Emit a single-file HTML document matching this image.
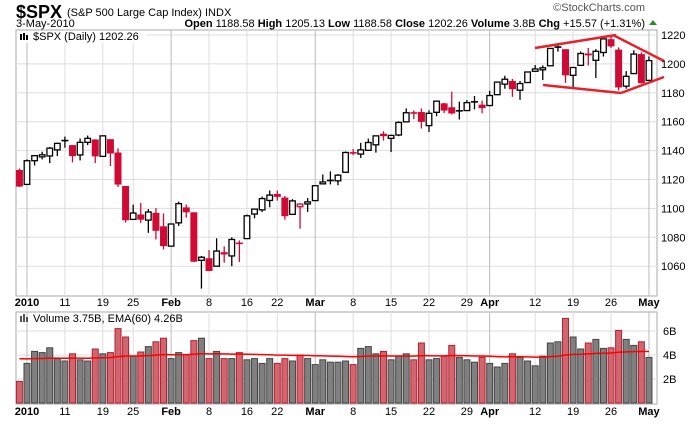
<!DOCTYPE html>
<html><head><meta charset="utf-8"><style>
body{margin:0;background:#fff;width:700px;height:421px;overflow:hidden;font-family:"Liberation Sans",sans-serif}
svg text{font-family:"Liberation Sans",sans-serif}
</style></head><body>
<svg id="chart" width="700" height="421" xmlns="http://www.w3.org/2000/svg">
<text x="16" y="18" font-size="18" font-weight="bold">$SPX</text>
<text x="67" y="16" font-size="11">(S&amp;P 500 Large Cap Index) INDX</text>
<text x="16" y="27" font-size="11">3-May-2010</text>
<text x="645" y="11" font-size="11" fill="#555" text-anchor="end">©StockCharts.com</text>
<text x="645" y="27" font-size="11" text-anchor="end"><tspan font-weight="bold">Open</tspan> 1188.58 <tspan font-weight="bold">High</tspan> 1205.13 <tspan font-weight="bold">Low</tspan> 1188.58 <tspan font-weight="bold">Close</tspan> 1202.26 <tspan font-weight="bold">Volume</tspan> 3.8B <tspan font-weight="bold">Chg</tspan> +15.57 (+1.31%)</text>
<path d="M649,25 L653,20 L657,25 Z" fill="#2a8a2a"/>
<g id="grid"></g>
<g id="marks"></g>
<g id="annot">
<line x1="535" y1="48" x2="616" y2="35" stroke="#e8202a" stroke-width="2.5"/>
<line x1="613" y1="35" x2="664" y2="61" stroke="#e8202a" stroke-width="2.5"/>
<line x1="543" y1="85" x2="621" y2="93" stroke="#e8202a" stroke-width="2.5"/>
<line x1="621" y1="93" x2="664" y2="77" stroke="#e8202a" stroke-width="2.5"/>
</g>
<rect x="17" y="31" width="130" height="12" fill="#fff" opacity="0.85"/>
<text x="33" y="40" font-size="11">$SPX (Daily) 1202.26</text>
<g fill="#000"><rect x="20" y="34" width="2" height="6"/><rect x="23" y="33" width="2" height="7"/><rect x="26" y="35" width="2" height="5"/></g>
<text x="33" y="322" font-size="11">Volume 3.75B, EMA(60) 4.26B</text>
<g fill="#555"><rect x="20" y="316" width="2" height="6"/><rect x="23" y="314" width="2" height="8"/><rect x="26" y="317" width="2" height="5"/></g>
</svg>
<script>
const dates=["D31","J4","J5","J6","J7","J8","J11","J12","J13","J14","J15","J19","J20","J21","J22","J25","J26","J27","J28","J29","F1","F2","F3","F4","F5","F8","F9","F10","F11","F12","F16","F17","F18","F19","F22","F23","F24","F25","F26","M1","M2","M3","M4","M5","M8","M9","M10","M11","M12","M15","M16","M17","M18","M19","M22","M23","M24","M25","M26","M29","M30","M31","A1","A5","A6","A7","A8","A9","A12","A13","A14","A15","A16","A19","A20","A21","A22","A23","A26","A27","A28","A29","A30","Y3"];
const opens=[1126.6,1116.6,1133,1135.7,1136.3,1140.5,1146,1143.8,1137,1145.7,1147.7,1136,1147.9,1138.7,1115.5,1092.4,1095.8,1091.9,1096.9,1087.6,1073.9,1090,1100.7,1097.3,1064.1,1065.5,1060,1069.7,1067.1,1075.9,1079.1,1096.1,1099,1105.5,1110,1107.5,1095.9,1101.2,1103.1,1105.4,1117,1119.4,1119.1,1125,1138.4,1137.6,1140.2,1144,1151.7,1148.5,1150.8,1159.9,1166.1,1166.7,1157.3,1166.5,1172.7,1170,1167.6,1167.7,1173.8,1171.8,1171.2,1178.7,1186,1188.2,1181.8,1187.1,1194.9,1195.9,1198.7,1210.8,1210.2,1192.1,1199,1207.2,1202.5,1207.9,1217.1,1209.9,1184.6,1193.3,1206.8,1188.6];
const highs=[1127.6,1133.9,1136.6,1139.2,1142.5,1145.4,1149.7,1143.8,1148.4,1150.4,1147.8,1150.5,1147.9,1141.6,1115.5,1102.6,1103.7,1099.5,1100.2,1096.5,1089.4,1104.7,1102.7,1097.3,1067.1,1071.2,1079.3,1073.7,1080,1077.8,1095.7,1099.7,1108.2,1112.4,1112.3,1108.6,1106.4,1103.5,1107.2,1116.1,1123.5,1125.6,1123.7,1139.4,1141.1,1145.4,1148.3,1150.5,1153.4,1151,1160.3,1169.2,1167.8,1169.2,1167.8,1174.7,1173,1180.7,1173.9,1174.9,1177.8,1174.6,1181.4,1187.7,1191.8,1189.6,1188.2,1194.7,1199.2,1199,1210.7,1213.9,1210.2,1197.9,1208.6,1211,1210.3,1217.3,1219.8,1211.4,1195,1209.4,1208,1205.1];
const lows=[1114.8,1116.6,1129.7,1133.9,1131.3,1136.2,1142,1131.8,1133.2,1143.8,1131.4,1135.8,1129.3,1114.8,1090.2,1092.4,1089.9,1083.1,1078.5,1071.6,1073.9,1087.9,1093.6,1062.8,1044.5,1056.5,1060,1062.4,1060,1063,1079.1,1093.2,1097.5,1100.8,1105.4,1092.2,1095.9,1086,1097.6,1105.4,1116.5,1116.6,1116,1125,1136.8,1134.9,1140.1,1138.6,1147,1139,1150,1159.9,1161.9,1155.3,1152.9,1163.8,1166,1165,1161.5,1167.7,1168.5,1165.8,1170.7,1178.7,1182.8,1177.2,1175.1,1187.1,1194.7,1188.8,1198.7,1208.5,1186.8,1183.7,1199,1198.9,1190.2,1205.1,1211.1,1181.6,1182.8,1193.3,1186.3,1188.6];
const closes=[1115.1,1133,1136.5,1137.1,1141.7,1145,1147,1136.2,1145.7,1148.5,1136,1150.2,1138,1116.5,1091.8,1096.8,1092.2,1097.5,1084.5,1073.9,1089.2,1103.3,1097.3,1063.1,1066.2,1056.7,1070.5,1068.1,1078.5,1075.5,1094.9,1099.5,1106.8,1109.2,1108,1094.6,1105.2,1103,1104.5,1115.7,1118.3,1118.8,1123,1138.7,1138.5,1140.5,1145.6,1150.2,1150,1150.5,1159.5,1166.2,1165.8,1159.9,1165.8,1174.2,1167.7,1165.7,1166.6,1173.2,1173.3,1169.4,1178.1,1187.4,1189.4,1182.5,1186.4,1194.4,1196.5,1197.3,1210.7,1211.7,1192.1,1197.5,1207.2,1205.9,1208.7,1217.3,1212.1,1183.7,1191.4,1206.8,1186.7,1202.3];
const prevClose=1126.4;
const volumes=[1.8,3.3,4.3,4.2,4.6,3.7,3.5,4.1,3.6,3.5,4.5,4.1,4.2,6.2,5.5,3.9,4.25,4.7,5.1,5.4,3.7,4.2,4.0,5.2,5.4,3.7,4.3,3.7,3.7,4.2,3.6,3.7,3.3,3.7,3.3,3.7,3.5,4.0,3.7,3.2,3.6,3.4,3.4,3.5,3.2,4.55,4.7,4.1,4.3,3.6,3.9,4.1,3.6,5.0,3.6,3.7,3.9,4.8,3.8,3.6,3.4,3.8,3.3,3.0,3.3,4.1,3.8,3.5,3.1,3.9,5.0,5.1,7.05,5.5,4.5,5.0,5.3,4.55,4.6,6.05,5.3,4.8,5.1,3.8];
const tickIdx=[1,6,11,15,20,25,30,34,39,44,49,54,59,62,68,73,78,83];
const tickLabels=["2010","11","19","25","Feb","8","16","22","Mar","8","15","22","29","Apr","12","19","26","May"];
const tickBold=[1,0,0,0,1,0,0,0,1,0,0,0,0,1,0,0,0,1];
const priceTicks=[1060,1080,1100,1120,1140,1160,1180,1200,1220];
const volTicks=[2,4,6];
const emaSeed=3.75;

const NS="http://www.w3.org/2000/svg";
const L=16,R=657,PT=30,PB=296,VT=312,VB=404;
const xS=i=>19.4+i*7.585;
const yP=v=>35+(1220-v)*1.445;
const yV=v=>403-v*12;
const grid=document.getElementById('grid'),marks=document.getElementById('marks'),svg=document.getElementById('chart');
function mk(tag,at,parent){const e=document.createElementNS(NS,tag);for(const k in at)e.setAttribute(k,at[k]);parent.appendChild(e);return e;}

let p1=mk('rect',{x:L,y:PT,width:R-L,height:PB-PT,fill:'#fff',stroke:'#aaa'},grid);


let p2=mk('rect',{x:L,y:VT,width:R-L,height:VB-VT,fill:'#fff',stroke:'#aaa'},grid);


priceTicks.forEach(v=>{
  mk('line',{x1:L,x2:R,y1:yP(v),y2:yP(v),stroke:'#ddd'},grid);
  let t=mk('text',{x:661,y:yP(v)+4,'font-size':11},svg);t.textContent=v;
  
  
});
volTicks.forEach(v=>{
  mk('line',{x1:L,x2:R,y1:yV(v),y2:yV(v),stroke:'#ddd'},grid);
  let t=mk('text',{x:663,y:yV(v)+4,'font-size':11},svg);t.textContent=v+'B';
  
  
});
tickIdx.forEach((i,k)=>{
  const x=xS(i),c=tickBold[k]?'#bbb':'#ddd';
  mk('line',{x1:x,x2:x,y1:PT,y2:PB,stroke:c},grid);
  mk('line',{x1:x,x2:x,y1:VT,y2:VB,stroke:c},grid);
  [306,415].forEach(y=>{
    let t=mk('text',{x:x,y:y,'font-size':11,'text-anchor':'middle','font-weight':tickBold[k]?'bold':'normal'},svg);
    t.textContent=tickLabels[k];
    
    
  });
});
let ema=emaSeed,pts=[];
closes.forEach((c,i)=>{
  const o=opens[i],x=xS(i);
  const pc=i>0?closes[i-1]:prevClose;
  const down=c<pc;
  const col=down?'#d10a35':'#000';
  const g=mk('g',{},marks);
  
  
  mk('line',{x1:x,x2:x,y1:yP(highs[i]),y2:yP(lows[i]),stroke:col,'stroke-width':1.3},g);
  const top=yP(Math.max(o,c)),bot=yP(Math.min(o,c));
  if(bot-top<1.5){mk('rect',{x:x-3.5,y:top-0.7,width:7,height:Math.max(1.6,bot-top),fill:col},g);}
  else if(c<o){mk('rect',{x:x-3.5,y:top,width:7,height:bot-top,fill:col},g);}
  else{mk('rect',{x:x-2.8,y:top,width:5.6,height:bot-top,fill:'#fff',stroke:col,'stroke-width':1.3},g);}
  const b=mk('rect',{x:x-3,y:yV(volumes[i]),width:6,height:403-yV(volumes[i]),fill:down?'#d06670':'#808080',stroke:down?'#b82030':'#444','stroke-width':1},marks);
  
  
  ema=ema+(volumes[i]-ema)*2/61;
  pts.push(x+','+yV(ema));
});
const el=mk('polyline',{points:pts.join(' '),fill:'none',stroke:'#f00','stroke-width':1.5},marks);


</script>
</body></html>
